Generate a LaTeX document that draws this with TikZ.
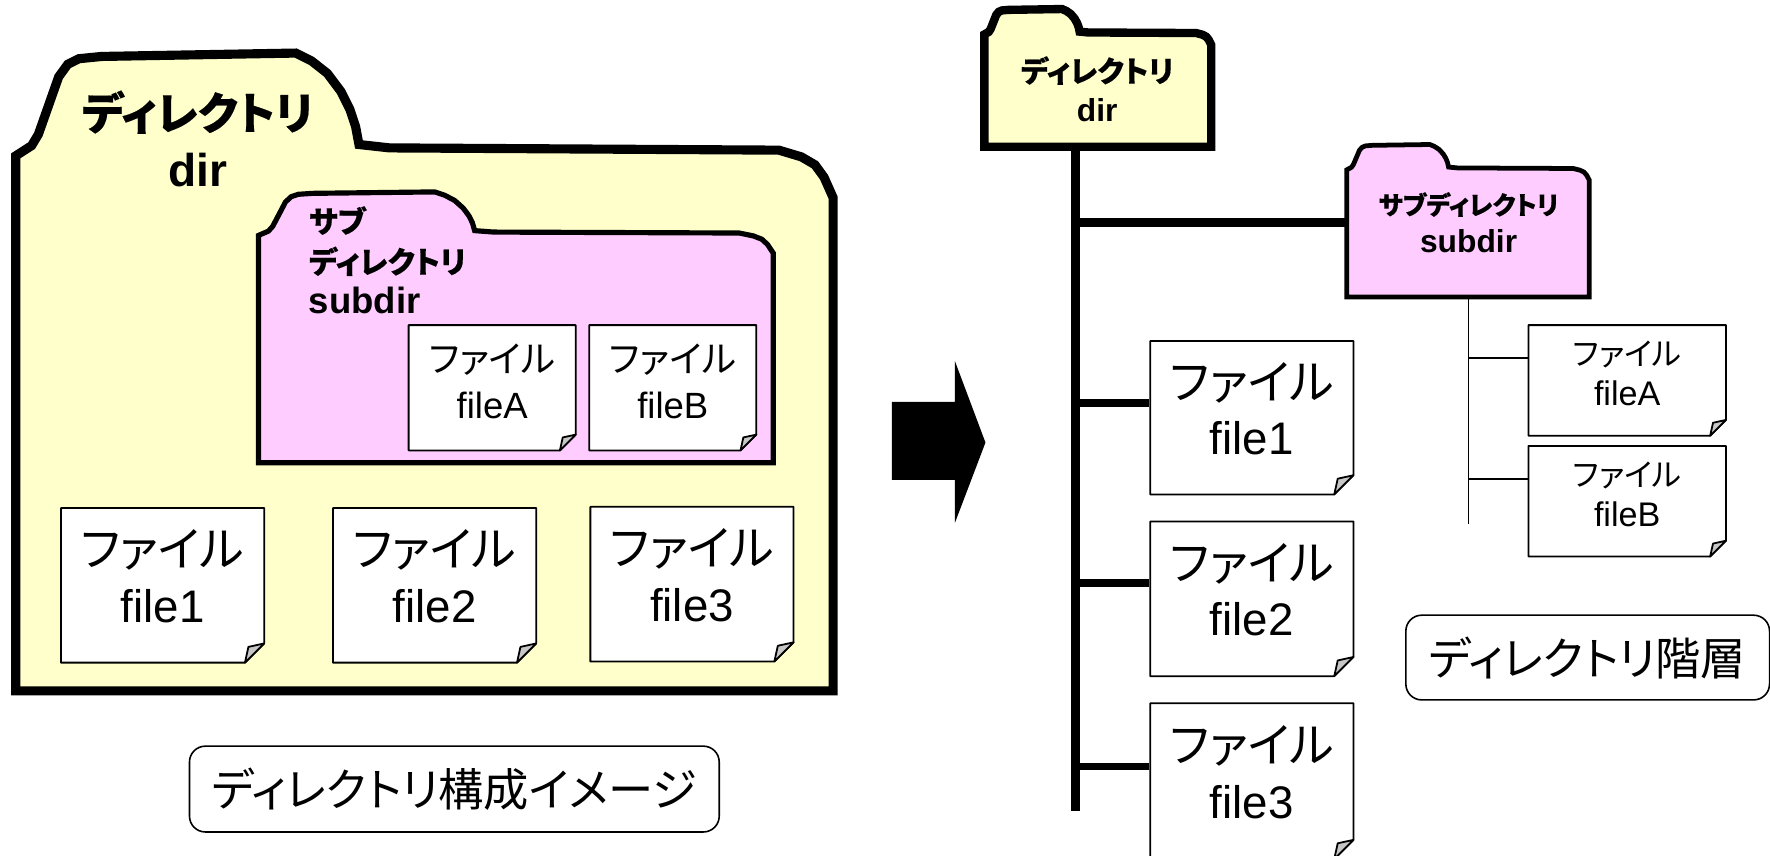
\documentclass[tikz,border=0pt]{standalone}
\usepackage{fontspec}
\setmainfont{Liberation Sans}
\newfontfamily\cjkfont[RawFeature=+palt]{Noto Sans CJK JP}
\newfontfamily\cjkbold[RawFeature=+palt,FakeBold=0.35]{Noto Sans CJK JP}
\usetikzlibrary{calc,fit}

\definecolor{dirfill}{HTML}{FFFFCC}
\definecolor{subfill}{HTML}{FFCCFF}

\newcommand{\jp}[2]{{\fontsize{#1}{#1}\selectfont\cjkfont #2}}
\newcommand{\jpb}[2]{{\fontsize{#1}{#1}\selectfont\cjkbold #2}}

\tikzset{
  foldermain/.style={draw=black,line width=2.3pt,miter limit=3,fill=dirfill},
  foldersub/.style={draw=black,line width=1.3pt,miter limit=3,fill=subfill},
  foldertree/.style={draw=black,line width=2.1pt,miter limit=3,fill=dirfill},
  foldertreesub/.style={draw=black,line width=1.2pt,miter limit=3,fill=subfill},
  paper/.style={draw=black,line width=0.45pt,line join=round,fill=white},
  curl/.style={draw=black,line width=0.45pt,line join=round,fill=black!22},
  bigtext/.style={align=center,inner sep=0pt,font=\fontsize{11.5}{14}\selectfont,execute at begin node=\def\jpsize{11.9}},
  smalltext/.style={align=center,inner sep=0pt,font=\fontsize{9.2}{11.4}\selectfont,execute at begin node=\def\jpsize{9.2}},
  treesmalltext/.style={align=center,inner sep=0pt,font=\fontsize{8.6}{10}\selectfont,execute at begin node=\def\jpsize{7.9}},
  captionbox/.style={draw=black,line width=0.4pt,rounded corners=4pt,fill=white,inner sep=0pt},
  trunkline/.style={line width=2.2pt},
  branchline/.style={line width=2pt},
  thinline/.style={line width=0.45pt}
}

% style, name, left, top, right, bottom, tab height
\newcommand{\folder}[7]{
  \pgfmathsetmacro{\sx}{(#5-#3)/724}
  \pgfmathsetmacro{\sy}{#7/85}
  \pgfmathsetmacro{\hh}{(#6-#4)/\sy}
  \draw[#1,shift={(#3,#4)},x={\sx*0.01cm},y={-\sy*0.01cm}] (0,91) -- (14,82) -- (20,72) -- (38,21) -- (46,10) -- (56,5) -- (76,3) -- (248,0) -- (262,7) -- (276,18) -- (288,34) -- (296,50) -- (301,65) -- (304,81) -- (331,84) -- (676,86) -- (696,92) -- (708,99) -- (716,110) -- (724,128) -- (724,\hh) -- (0,\hh) -- cycle;
  \node[fit={(#3,#4) (#5,#6)},inner sep=0pt] (#2) {};
}
% name, left, top, right, bottom, fold, text style, text shift, file name
\newcommand{\filebox}[9]{
  \draw[paper] (#2,#3) -- (#4,#3) -- (#4,{#5-#6}) -- ({#4-#6},#5) -- (#2,#5) -- cycle;
  \draw[curl] (#4,{#5-#6}) -- ({#4-0.82*#6},{#5-0.82*#6}) -- ({#4-#6},#5) -- cycle;
  \node[fit={(#2,#3) (#4,#5)},inner sep=0pt] (#1) {};
  \node[#7] (#1text) at ([yshift=#8]#1.center) {\jp{\jpsize}{ファイル}\\#9};
}

\begin{document}
\begin{tikzpicture}[x=0.01cm,y=-0.01cm]
  \useasboundingbox (0,0) rectangle (1568,758.3);

  % Directory image
  \folder{foldermain}{dirmain}{14}{47}{738}{612}{85}
  \node[align=center,inner sep=0pt,font=\fontsize{11.6}{14.4}\selectfont\bfseries] (dirmaintext) at (175,123) {\jpb{11.2}{ディレクトリ}\\dir};
  \folder{foldersub}{submain}{229}{170}{685}{410}{36}
  \node[align=left,anchor=north west,inner sep=0pt,font=\fontsize{9.2}{10.2}\selectfont\bfseries] (submaintext) at (273,182) {\jpb{7.6}{サブ}\\\jpb{7.6}{ディレクトリ}\\subdir};
  \filebox{fileAmain}{362}{288}{510}{399}{14}{smalltext}{1.6pt}{fileA}
  \filebox{fileBmain}{522}{288}{670}{399}{14}{smalltext}{1.6pt}{fileB}
  \filebox{fileonemain}{54}{450}{234}{587}{17}{bigtext}{2.3pt}{file1}
  \filebox{filetwomain}{295}{450}{475}{587}{17}{bigtext}{2.3pt}{file2}
  \filebox{filethreemain}{523}{449}{703}{586}{17}{bigtext}{2.3pt}{file3}
  \node[captionbox,minimum width=4.69cm,minimum height=0.76cm] (imagecaption) at (402.5,699) {\jp{11.4}{ディレクトリ構成イメージ}};

  % Arrow
  \fill[black] (790,356) -- (846,356) -- (846,320) -- (873,392) -- (846,463) -- (846,425) -- (790,425) -- cycle;

  % Directory tree
  \folder{foldertree}{dirtree}{872}{8}{1073}{130}{21}
  \node[align=center,inner sep=0pt,font=\fontsize{8}{10}\selectfont\bfseries] (dirtreetext) at (972,79) {\jpb{7.4}{ディレクトリ}\\dir};
  \folder{foldertreesub}{subtree}{1193}{128}{1408}{263}{21}
  \node[align=center,inner sep=0pt,font=\fontsize{8}{9.5}\selectfont\bfseries] (subtreetext) at (1301,197) {\jpb{6.4}{サブディレクトリ}\\subdir};
  \filebox{fileonetree}{1019}{302}{1199}{438}{17}{bigtext}{2.3pt}{file1}
  \filebox{filetwotree}{1019}{462}{1199}{599}{17}{bigtext}{2.3pt}{file2}
  \filebox{filethreetree}{1019}{623}{1199}{761}{17}{bigtext}{2.3pt}{file3}
  \filebox{fileAtree}{1354}{288}{1529}{386}{14}{treesmalltext}{1.8pt}{fileA}
  \filebox{fileBtree}{1354}{395}{1529}{493}{14}{treesmalltext}{1.8pt}{fileB}
  \node[captionbox,minimum width=3.22cm,minimum height=0.75cm] (treecaption) at (1406.5,582.5) {\jp{11.4}{ディレクトリ階層}};

  % Connectors
  \coordinate (trunkend) at (953,718);
  \coordinate (subend) at (1301,464);
  \draw[trunkline] (trunkend |- dirtree.south) -- (trunkend);
  \coordinate (subport) at ([yshift=-0.015cm]subtree.west);
  \draw[line width=2.3pt] (trunkend |- subport) -- (subport);
  \coordinate (fileoneport) at ([yshift=0.13cm]fileonetree.west);
  \coordinate (filetwoport) at ([yshift=0.14cm]filetwotree.west);
  \coordinate (filethreeport) at ([yshift=0.13cm]filethreetree.west);
  \foreach \port in {fileoneport,filetwoport,filethreeport}
    \draw[branchline] (trunkend |- \port) -- (\port);
  \draw[thinline] (subend |- subtree.south) -- (subend);
  \coordinate (fileAport) at ([yshift=0.2cm]fileAtree.west);
  \coordinate (fileBport) at ([yshift=0.2cm]fileBtree.west);
  \foreach \port in {fileAport,fileBport}
    \draw[thinline] (subend |- \port) -- (\port);
\end{tikzpicture}
\end{document}
